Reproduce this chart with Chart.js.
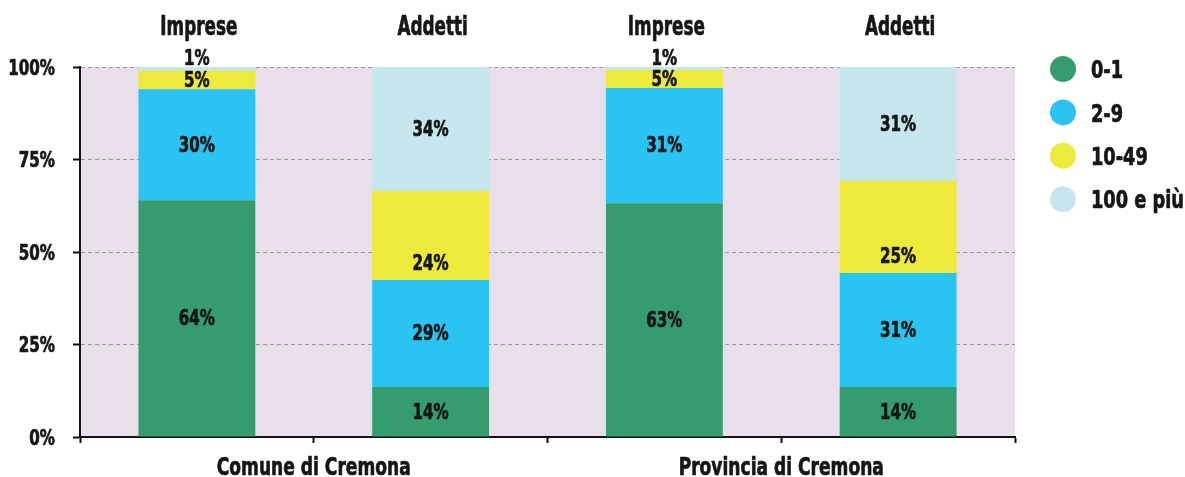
<!DOCTYPE html>
<html>
<head>
<meta charset="utf-8">
<script src="https://cdn.jsdelivr.net/npm/chart.js@4"></script>
<style>
  html, body { margin: 0; padding: 0; background: #ffffff; }
  #wrap { width: 1185px; height: 477px; position: relative; }
</style>
</head>
<body>
<div id="wrap"><canvas id="mycanvas"></canvas></div>
<script>
// data
var bars = ['Imprese', 'Addetti', 'Imprese', 'Addetti'];
var groups = ['Comune di Cremona', 'Provincia di Cremona'];
var classes = ['0-1', '2-9', '10-49', '100 e più'];
var v01 = [64, 13.5, 63.2, 13.5];
var v29 = [30, 28.9, 31.1, 30.8];
var v1049 = [5, 24.1, 4.9, 24.9];
var v100 = [1, 33.5, 0.8, 30.8];
var yTicks = [0, 25, 50, 75, 100];
var colors = ['#359c6f', '#29c4f2', '#eeea3b', '#c5e6ec'];

var FONT = '"DejaVu Sans Condensed", "DejaVu Sans", sans-serif';
var INK = '#161616';

function drawText(ctx, txt, x, y, size, align, sx) {
    // y is the vertical centre of the capitals
    ctx.save();
    ctx.font = 'bold ' + size + 'px ' + FONT;
    ctx.fillStyle = INK;
    ctx.strokeStyle = INK;
    ctx.lineWidth = 0.7;
    ctx.lineJoin = 'round';
    ctx.textAlign = align;
    ctx.textBaseline = 'alphabetic';
    ctx.translate(x, y + size * 0.365);
    ctx.scale(sx, 1);
    ctx.fillText(txt, 0, 0);
    ctx.strokeText(txt, 0, 0);
    ctx.restore();
}

var plotBg = {
    id: 'plotBg',
    beforeDraw: function(chart) {
        var a = chart.chartArea, ctx = chart.ctx;
        ctx.save();
        ctx.fillStyle = '#e9dfea';
        ctx.fillRect(a.left, a.top, a.right - a.left, a.bottom - a.top);
        ctx.restore();
    }
};

var texts = {
    id: 'texts',
    afterDraw: function(chart) {
        var ctx = chart.ctx;
        var xs = chart.scales.x, ys = chart.scales.y;

        // y tick labels
        yTicks.forEach(function(v) {
            drawText(ctx, v + '%', 55, ys.getPixelForValue(v), 21, 'right', 0.8);
        });

        // bar names on top
        bars.forEach(function(b, i) {
            drawText(ctx, b, xs.getPixelForValue(i) + 2, 26, 26, 'center', 0.72);
        });

        // group names below
        groups.forEach(function(g, k) {
            var x = (xs.getPixelForValue(2 * k) + xs.getPixelForValue(2 * k + 1)) / 2;
            drawText(ctx, g, x, 466, 25, 'center', 0.76);
        });

        // segment labels
        chart.data.datasets.forEach(function(ds, d) {
            var meta = chart.getDatasetMeta(d);
            meta.data.forEach(function(el, i) {
                var h = el.base - el.y;
                var txt = Math.round(ds.data[i]) + '%';
                var y = (el.y + el.base) / 2;
                if (h < 8) y = el.y - 9;
                else if (d === 2) y = Math.max(y, el.base - 17);
                drawText(ctx, txt, el.x, y - 1, 21.5, 'center', 0.78);
            });
        });

        // legend
        classes.forEach(function(c, k) {
            var cy = 69 + k * 43.4;
            ctx.save();
            ctx.fillStyle = colors[k];
            ctx.beginPath();
            ctx.arc(1063, cy, 13, 0, Math.PI * 2);
            ctx.fill();
            ctx.restore();
            drawText(ctx, c, 1091, cy, 25, 'left', 0.79);
        });
    }
};

var datasets = [v01, v29, v1049, v100].map(function(vals, k) {
    return {
        label: classes[k],
        data: vals,
        backgroundColor: colors[k],
        borderWidth: 0,
        barPercentage: 0.5,
        categoryPercentage: 1
    };
});

var ctx = document.getElementById('mycanvas');
var myChart = new Chart(ctx, {
    type: 'bar',
    data: { labels: bars, datasets: datasets },
    options: {
        responsive: true,
        maintainAspectRatio: false,
        animation: false,
        layout: { padding: { top: 67, right: 170, left: 0, bottom: 0 } },
        plugins: { legend: { display: false }, tooltip: { enabled: false } },
        scales: {
            x: {
                stacked: true,
                offset: true,
                ticks: { display: false },
                grid: { offset: true, drawOnChartArea: false, tickLength: 6, tickWidth: 2, tickColor: '#111' },
                border: { color: '#111', width: 2 },
                afterFit: function(s) { s.height = 40; }
            },
            y: {
                stacked: true,
                min: 0,
                max: 100,
                ticks: { display: false, stepSize: 25 },
                grid: {
                    color: function(c) { return c.tick && c.tick.value === 0 ? 'rgba(0,0,0,0)' : '#9a9a9a'; },
                    lineWidth: 1,
                    tickLength: 7,
                    tickWidth: 2,
                    tickColor: '#111'
                },
                border: { color: '#111', width: 2, dash: [4, 3] },
                afterFit: function(s) { s.width = 80; }
            }
        }
    },
    plugins: [plotBg, texts]
});
</script>
</body>
</html>
